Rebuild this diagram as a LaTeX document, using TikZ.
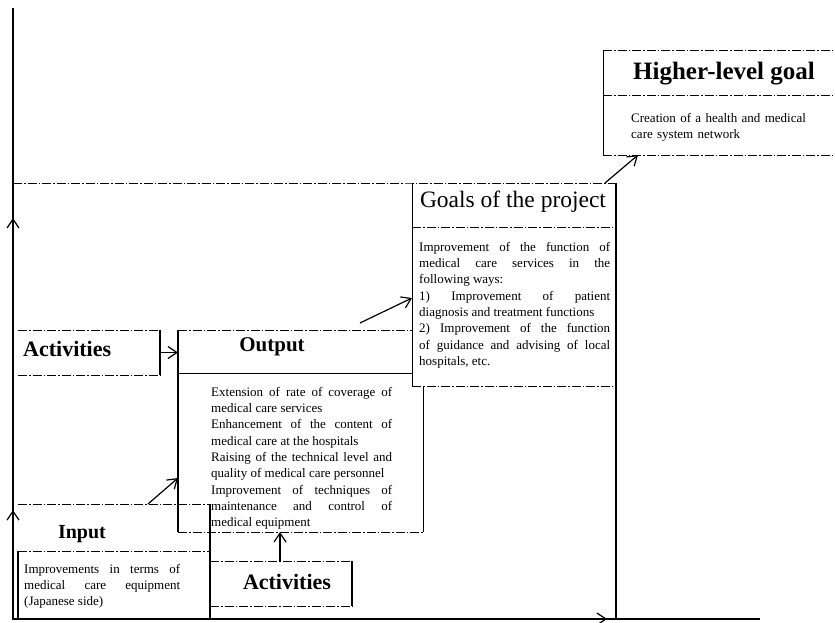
\documentclass[tikz,border=0pt]{standalone}
\usepackage{fontspec}
\setmainfont{Liberation Serif}
\usetikzlibrary{arrows.meta}

\tikzset{
  area/.style 2 args={minimum width=#1, minimum height=#2, inner sep=0pt, outer sep=0pt, anchor=north west},
  frame/.style={line width=2.6pt},
  edge/.style={line width=1.6pt},
  rule/.style={line width=0.9pt, dash pattern=on 9pt off 2pt on 1.5pt off 2pt},
  flow/.style={line width=1.2pt, -{Straight Barb[length=9pt,width=12pt]}},
  head/.style={font=\bfseries\fontsize{21}{24}\selectfont, inner sep=0pt},
  body/.style={font=\fontsize{13}{16.3}\selectfont, align=justify, inner sep=0pt, anchor=north west},
}

\begin{document}
\begin{tikzpicture}[x=1pt,y=1pt]
  \useasboundingbox (0,0) rectangle (835,622);

  \draw [frame] (13,614) -- (13,3) -- (760,3);
  \draw [flow] (13,380) -- (13,404);
  \draw [flow] (13,90) -- (13,112);
  \draw [flow] (580,3) -- (607,3);

  \node [area={192}{115}] (input) at (18,118) {};
  \draw [rule] (input.north west) -- (input.north east) ([yshift=68]input.south west) -- ([yshift=68]input.south east);
  \draw [edge] ([yshift=68]input.south west) -- (input.south west);
  \draw [edge] (input.north east) -- (input.south east);
  \node [head, font=\bfseries\fontsize{20}{24}\selectfont] (inputhead) at (82,88) {Input};
  \node [body, text width=156] (inputtext) at (24,58) {Improvements in terms of\linebreak medical care equipment\linebreak (Japanese side)};

  \node [area={142}{45}] (actb) at (210,61) {};
  \draw [rule] (actb.north west) -- (actb.north east) (actb.south west) -- (actb.south east);
  \draw [edge] (actb.north east) -- (actb.south east);
  \node [head, font=\bfseries\fontsize{22}{24}\selectfont] (actbhead) at (287,40) {Activities};

  \node [area={245}{202}] (output) at (178,292) {};
  \draw [rule] (output.north west) -- (output.north east) (output.south west) -- (output.south east);
  \draw [thick] ([yshift=-43]output.north west) -- ([yshift=-43]output.north east);
  \draw [edge] (output.north west) -- (output.south west);
  \draw [thick] (output.north east) -- (output.south east);
  \node [head] (outputhead) at (272,275) {Output};
  \node [body, text width=181] (outputtext) at (211,235) {Extension of rate of coverage of\linebreak medical care services\\
    Enhancement of the content of\linebreak medical care at the hospitals\\
    Raising of the technical level and\linebreak quality of medical care personnel\\
    Improvement of techniques of\linebreak maintenance and control of\linebreak medical equipment};

  \node [area={142}{45}] (actl) at (18,292) {};
  \draw [rule] (actl.north west) -- (actl.north east) (actl.south west) -- (actl.south east);
  \draw [edge] (actl.north east) -- (actl.south east);
  \node [head, font=\bfseries\fontsize{22}{24}\selectfont, anchor=west] (actlhead) at (23,273) {Activities};

  \node [area={204}{203}, fill=white] (goals) at (412,439) {};
  \draw [rule] (13,439) -- (goals.north west) -- (goals.north east);
  \draw [rule] (goals.south west) -- (goals.south east) ([yshift=-44]goals.north west) -- ([yshift=-44]goals.north east);
  \draw [thick] (goals.north west) -- (goals.south west);
  \draw [frame] (goals.north east) -- (616,3);
  \node [head, font=\fontsize{23.5}{26}\selectfont] (goalshead) at (513,420) {Goals of the project};
  \node [body, text width=191] (goalstext) at (419,380) {Improvement of the function of\linebreak medical care services in the\linebreak following ways:\\
    1) Improvement of patient\linebreak diagnosis and treatment functions\\
    2) Improvement of the function\linebreak of guidance and advising of local\linebreak hospitals, etc.};

  \node [area={240}{105}] (higher) at (603,572) {};
  \draw [rule] (higher.north west) -- (835,572) (higher.south west) -- (835,467) ([yshift=-45]higher.north west) -- (835,527);
  \draw [thick] (higher.north west) -- (higher.south west);
  \node [head, font=\bfseries\fontsize{25}{28}\selectfont] (higherhead) at (724,548) {Higher-level goal};
  \node [body, text width=200, align=left] (highertext) at (631,509) {Creation of a health and medical\\care system network};

  \draw [flow] ([xshift=130]input.north west) -- ([yshift=54]output.south west);
  \draw [flow] (actl.east) -- (actl.east -| output.west);
  \draw [flow] (actb.north -| 280,0) -- (output.south -| 280,0);
  \draw [flow] ([xshift=182,yshift=7]output.north west) -- ([yshift=88]goals.south west);
  \draw [flow] ([xshift=-11]goals.north east) -- ([xshift=35]higher.south west);
\end{tikzpicture}
\end{document}
